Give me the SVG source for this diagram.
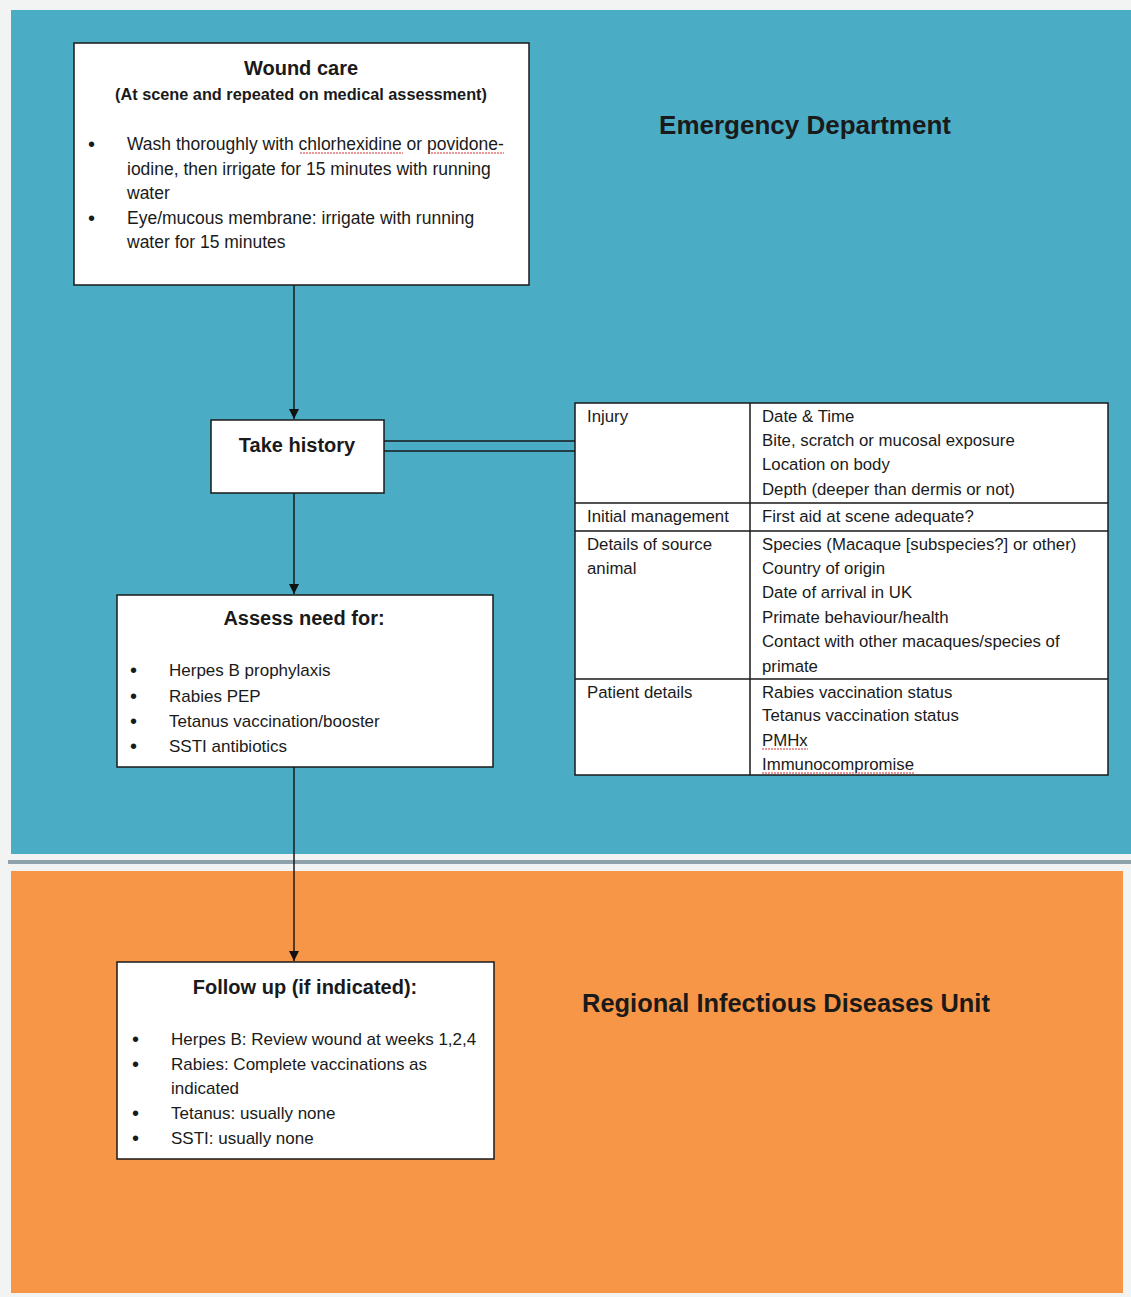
<svg xmlns="http://www.w3.org/2000/svg" width="1131" height="1297" viewBox="0 0 1131 1297">
<style>
text{font-family:"Liberation Sans",Arial,sans-serif;fill:#1a1a1a;}
.b{font-weight:bold;}
.h{font-size:20px;font-weight:bold;text-anchor:middle;}
.t{font-size:17px;}
.w{font-size:17.5px;}
.tb{font-size:16.8px;}
.bl{font-size:20px;}
.box{fill:#fff;stroke:#1a1a1a;stroke-width:1.5;}
.ln{stroke:#1a1a1a;stroke-width:1.5;fill:none;}
.sq{stroke:#d03030;stroke-width:1;fill:none;stroke-dasharray:2 1;}
.title{font-weight:bold;text-anchor:middle;}
</style>
<defs>
<marker id="ah" markerWidth="12" markerHeight="12" refX="10" refY="5" orient="auto" markerUnits="userSpaceOnUse">
<path d="M0,0 L10,5 L0,10 Z" fill="#111"/>
</marker>
</defs>
<rect x="0" y="0" width="1131" height="1297" fill="#f2f4f4"/>
<rect x="11" y="10" width="1120" height="844" fill="#4BACC6"/>
<rect x="8" y="860" width="1123" height="4" fill="#8fa1ab"/>
<rect x="11" y="871" width="1112" height="422" fill="#F79646"/>

<text class="title" x="805" y="134" font-size="26">Emergency Department</text>
<text class="title" x="786" y="1012" font-size="25.4">Regional Infectious Diseases Unit</text>

<g id="connectors">
<line class="ln" x1="294" y1="285" x2="294" y2="419" marker-end="url(#ah)"/>
<line class="ln" x1="294" y1="493" x2="294" y2="594" marker-end="url(#ah)"/>
<line class="ln" x1="294" y1="767" x2="294" y2="961" marker-end="url(#ah)"/>
<line class="ln" x1="384" y1="441" x2="575" y2="441"/>
<line class="ln" x1="384" y1="451" x2="575" y2="451"/>
</g>

<g id="wound-care">
<rect class="box" x="74" y="43" width="455" height="242"/>
<text class="h" x="301" y="75">Wound care</text>
<text class="b" x="301" y="100" font-size="16.3" text-anchor="middle">(At scene and repeated on medical assessment)</text>
<text class="bl" x="88" y="151">•</text>
<text class="w" x="127" y="150">Wash thoroughly with chlorhexidine or povidone-</text>
<text class="w" x="127" y="175">iodine, then irrigate for 15 minutes with running</text>
<text class="w" x="127" y="199">water</text>
<text class="bl" x="88" y="225">•</text>
<text class="w" x="127" y="224">Eye/mucous membrane: irrigate with running</text>
<text class="w" x="127" y="248">water for 15 minutes</text>
<path class="sq" d="M300,153 H403 M428,153 H504"/>
</g>

<g id="take-history">
<rect class="box" x="211" y="420" width="173" height="73"/>
<text class="h" x="297" y="452">Take history</text>
</g>

<g id="assess-need">
<rect class="box" x="117" y="595" width="376" height="172"/>
<text class="h" x="304" y="625">Assess need for:</text>
<text class="bl" x="130" y="677">•</text><text class="t" x="169" y="676">Herpes B prophylaxis</text>
<text class="bl" x="130" y="703">•</text><text class="t" x="169" y="702">Rabies PEP</text>
<text class="bl" x="130" y="728">•</text><text class="t" x="169" y="727">Tetanus vaccination/booster</text>
<text class="bl" x="130" y="753">•</text><text class="t" x="169" y="752">SSTI antibiotics</text>
</g>

<g id="history-table">
<rect class="box" x="575" y="403" width="533" height="372"/>
<path class="ln" d="M750,403 V775 M575,503 H1108 M575,531 H1108 M575,679 H1108"/>
<text class="tb" x="587" y="422">Injury</text>
<text class="tb" x="762" y="422">Date &amp; Time</text>
<text class="tb" x="762" y="446">Bite, scratch or mucosal exposure</text>
<text class="tb" x="762" y="470">Location on body</text>
<text class="tb" x="762" y="495">Depth (deeper than dermis or not)</text>
<text class="tb" x="587" y="522">Initial management</text>
<text class="tb" x="762" y="522">First aid at scene adequate?</text>
<text class="tb" x="587" y="550">Details of source</text>
<text class="tb" x="587" y="574">animal</text>
<text class="tb" x="762" y="550">Species (Macaque [subspecies?] or other)</text>
<text class="tb" x="762" y="574">Country of origin</text>
<text class="tb" x="762" y="598">Date of arrival in UK</text>
<text class="tb" x="762" y="623">Primate behaviour/health</text>
<text class="tb" x="762" y="647">Contact with other macaques/species of</text>
<text class="tb" x="762" y="672">primate</text>
<text class="tb" x="587" y="698">Patient details</text>
<text class="tb" x="762" y="698">Rabies vaccination status</text>
<text class="tb" x="762" y="721">Tetanus vaccination status</text>
<text class="tb" x="762" y="746">PMHx</text>
<text class="tb" x="762" y="770">Immunocompromise</text>
<path class="sq" d="M762,749 H808 M762,773 H914"/>
</g>

<g id="follow-up">
<rect class="box" x="117" y="962" width="377" height="197"/>
<text class="h" x="305" y="994" font-size="20.9">Follow up (if indicated):</text>
<text class="bl" x="132" y="1046">•</text><text class="t" x="171" y="1045">Herpes B: Review wound at weeks 1,2,4</text>
<text class="bl" x="132" y="1071">•</text><text class="t" x="171" y="1070">Rabies: Complete vaccinations as</text>
<text class="t" x="171" y="1094">indicated</text>
<text class="bl" x="132" y="1120">•</text><text class="t" x="171" y="1119">Tetanus: usually none</text>
<text class="bl" x="132" y="1145">•</text><text class="t" x="171" y="1144">SSTI: usually none</text>
</g>
</svg>
